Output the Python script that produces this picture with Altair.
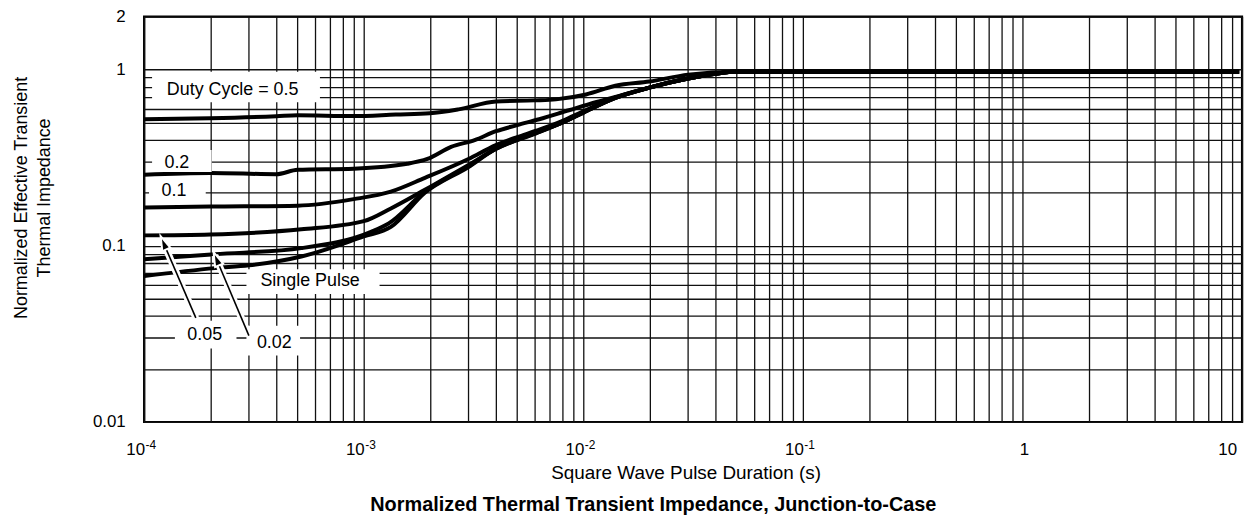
import altair as alt
import pandas as pd

FONT = "Liberation Sans"

# ---- curve data (pulse duration s, normalized Zth) ----
series_names = ["0.5", "0.2", "0.1", "0.05", "0.02", "Single Pulse"]

t_05 = [1e-4, 2e-4, 4e-4, 5e-4, 9e-4, 1.4e-3, 2e-3, 2.7e-3, 4e-3, 6e-3, 7.5e-3, 1.03e-2, 1.4e-2, 2e-2, 3e-2, 5e-2, 9.7]
z_05 = [0.523, 0.530, 0.544, 0.551, 0.545, 0.556, 0.565, 0.595, 0.66, 0.669, 0.678, 0.723, 0.81, 0.856, 0.937, 0.974, 0.974]

t_02 = [1e-4, 2e-4, 4e-4, 5e-4, 9e-4, 1.58e-3, 1.95e-3, 2.5e-3, 3.2e-3, 4e-3, 5e-3, 6.3e-3, 8.6e-3, 1.15e-2, 1.4e-2, 2e-2, 3e-2, 5e-2, 9.7]
z_02 = [0.253, 0.259, 0.255, 0.270, 0.274, 0.292, 0.311, 0.364, 0.398, 0.447, 0.484, 0.523, 0.588, 0.655, 0.70, 0.79, 0.89, 0.974, 0.974]

t_01 = [1e-4, 2e-4, 5e-4, 9e-4, 1.33e-3, 1.9e-3, 3e-3, 4e-3, 5e-3, 6.1e-3, 8e-3, 1e-2, 1.4e-2, 2e-2, 3e-2, 5e-2, 9.7]
z_01 = [0.165, 0.167, 0.169, 0.184, 0.203, 0.243, 0.311, 0.373, 0.414, 0.45, 0.51, 0.58, 0.695, 0.79, 0.89, 0.974, 0.974]

t_005 = [1e-4, 2e-4, 5.2e-4, 1e-3, 1.33e-3, 1.9e-3, 3e-3, 4e-3, 6.1e-3, 8e-3, 1e-2, 1.4e-2, 2e-2, 3e-2, 5e-2, 9.7]
z_005 = [0.1146, 0.116, 0.124, 0.138, 0.163, 0.208, 0.288, 0.354, 0.44, 0.5, 0.57, 0.69, 0.79, 0.89, 0.974, 0.974]

t_002 = [1e-4, 2.1e-4, 5.2e-4, 1.08e-3, 1.3e-3, 1.9e-3, 3e-3, 4e-3, 6.1e-3, 8e-3, 1e-2, 1.4e-2, 2e-2, 3e-2, 5e-2, 9.7]
z_002 = [0.0839, 0.0896, 0.097, 0.120, 0.134, 0.203, 0.284, 0.357, 0.437, 0.5, 0.57, 0.69, 0.79, 0.89, 0.974, 0.974]

t_sp = [1e-4, 2.1e-4, 3e-4, 5.2e-4, 1e-3, 1.33e-3, 1.9e-3, 3e-3, 4e-3, 6.1e-3, 8e-3, 1e-2, 1.4e-2, 2e-2, 3e-2, 5e-2, 9.7]
z_sp = [0.0673, 0.0747, 0.0775, 0.087, 0.113, 0.128, 0.2, 0.28, 0.355, 0.435, 0.5, 0.57, 0.69, 0.79, 0.89, 0.974, 0.974]

# ---- axis ticks ----
x_grid = [round(m * 10.0 ** k, 10) for k in range(-4, 1) for m in range(1, 10)] + [10.0]
y_grid = [round(m * 10.0 ** k, 10) for k in range(-2, 0) for m in range(1, 10)] + [1.0, 2.0]
# x tick labels: powers of ten written as base + superscript exponent
x_pow_values = [0.0001, 0.001, 0.01, 0.1]
x_pow_base = ["10", "10", "10", "10"]
x_pow_exp = ["-4", "-3", "-2", "-1"]
x_one_value = [1.0]
x_one_label = ["1"]
x_ten_value = [10.0]
x_ten_label = ["10"]
y_tick_values = [0.01, 0.1, 1.0, 2.0]
y_tick_labels = ["0.01", "0.1", "1", "2"]

# ---- annotations ----
label_text = ["Duty Cycle = 0.5", "0.2", "0.1", "Single Pulse", "0.05", "0.02"]
label_t = [2.53e-4, 1.41e-4, 1.367e-4, 5.7e-4, 1.888e-4, 3.916e-4]
label_z = [0.762, 0.2954, 0.2054, 0.0631, 0.0313, 0.0282]
box_t1 = [1.087e-4, 1.087e-4, 1.053e-4, 2.924e-4, 1.381e-4, 2.924e-4]
box_t2 = [6.32e-4, 2.03e-4, 1.908e-4, 1.181e-3, 2.634e-4, 5.13e-4]
box_z1 = [0.974, 0.3498, 0.2369, 0.0737, 0.03756, 0.0352]
box_z2 = [0.652, 0.2628, 0.1781, 0.0533, 0.02612, 0.02385]

arrow_tip_t = [1.206e-4, 2.1e-4]
arrow_tip_z = [0.1088, 0.0884]
arrow_tail_t = [1.72e-4, 3.0e-4]
arrow_tail_z = [0.039, 0.0309]
arrow_angle = [336.7, 337.2]

# ---- build tables ----
rows = []
for name, ts, zs in zip(series_names, [t_05, t_02, t_01, t_005, t_002, t_sp],
                        [z_05, z_02, z_01, z_005, z_002, z_sp]):
    for i, (t, z) in enumerate(zip(ts, zs)):
        rows.append({"series": name, "t": t, "z": z, "order": i})
curves = pd.DataFrame(rows)

labels = pd.DataFrame({"text": label_text, "t": label_t, "z": label_z,
                       "t1": box_t1, "t2": box_t2, "z1": box_z1, "z2": box_z2})
arrows = pd.DataFrame({"t": arrow_tip_t, "z": arrow_tip_z,
                       "t2": arrow_tail_t, "z2": arrow_tail_z, "angle": arrow_angle})
pow_df = pd.DataFrame({"t": x_pow_values, "base": x_pow_base, "exp": x_pow_exp})
one_df = pd.DataFrame({"t": x_one_value, "base": x_one_label})
ten_df = pd.DataFrame({"t": x_ten_value, "base": x_ten_label})


def label_expr(vals, labs):
    expr = "''"
    for v, l in reversed(list(zip(vals, labs))):
        expr = f"abs(datum.value - {v!r}) < {v * 1e-6!r} ? '{l}' : ({expr})"
    return expr


xscale = alt.Scale(type="log", domain=[1e-4, 10], nice=False)
yscale = alt.Scale(type="log", domain=[0.01, 2], nice=False)

xaxis = alt.Axis(
    values=x_grid, labels=False,
    grid=True, gridColor="#111111", gridWidth=1.3, gridOpacity=1,
    ticks=False, tickSize=0, domain=False,
    title="Square Wave Pulse Duration (s)", titleFont=FONT, titleFontSize=19,
    titleFontWeight="normal", titleColor="black", titleX=545, titleY=51,
    titleAlign="center", titleBaseline="middle",
)
yaxis = alt.Axis(
    values=y_grid, labelExpr=label_expr(y_tick_values, y_tick_labels),
    grid=True, gridColor="#111111", gridWidth=1.3, gridOpacity=1,
    ticks=False, tickSize=0, domain=False, labelOverlap=False, labelBound=False,
    labelFont=FONT, labelFontSize=17, labelColor="black", labelPadding=19,
    title=["Normalized Effective Transient", "Thermal Impedance"],
    titleFont=FONT, titleFontSize=18, titleFontWeight="normal", titleColor="black",
    titleX=-123, titleY=182, titleAlign="center", titleBaseline="middle",
    titleLineHeight=23, titleAngle=270,
)

base_x = alt.X("t:Q", scale=xscale, axis=xaxis)
base_y = alt.Y("z:Q", scale=yscale, axis=yaxis)

lines = alt.Chart(curves).mark_line(
    color="black", strokeWidth=4, interpolate="monotone", strokeJoin="round", clip=True
).encode(x=base_x, y=base_y, detail="series:N", order="order:Q")

boxes = alt.Chart(labels).mark_rect(color="white", opacity=1).encode(
    x=alt.X("t1:Q", scale=xscale), x2="t2:Q",
    y=alt.Y("z1:Q", scale=yscale), y2="z2:Q")

halo = alt.Chart(arrows).mark_rule(color="white", strokeWidth=7, strokeCap="butt").encode(
    x=alt.X("t:Q", scale=xscale), x2="t2:Q", y=alt.Y("z:Q", scale=yscale), y2="z2:Q")
shaft = alt.Chart(arrows).mark_rule(color="black", strokeWidth=1.6).encode(
    x=alt.X("t:Q", scale=xscale), x2="t2:Q", y=alt.Y("z:Q", scale=yscale), y2="z2:Q")

head_shape = "M0,0L0.3,1L-0.3,1Z"
head_halo = alt.Chart(arrows).mark_point(
    shape=head_shape, filled=True, fill="white", stroke="white", strokeWidth=4,
    size=400, opacity=1).encode(
    x=alt.X("t:Q", scale=xscale), y=alt.Y("z:Q", scale=yscale), angle=alt.Angle("angle:Q", scale=None))
head = alt.Chart(arrows).mark_point(
    shape=head_shape, filled=True, fill="black", strokeWidth=0, size=400, opacity=1).encode(
    x=alt.X("t:Q", scale=xscale), y=alt.Y("z:Q", scale=yscale), angle=alt.Angle("angle:Q", scale=None))

texts = alt.Chart(labels).mark_text(
    font=FONT, fontSize=18, color="black", align="center", baseline="middle").encode(
    x=alt.X("t:Q", scale=xscale), y=alt.Y("z:Q", scale=yscale), text="text:N")

# x tick labels (below the plot)
LABEL_Y = 436
pow_base = alt.Chart(pow_df).mark_text(
    font=FONT, fontSize=17, color="black", align="right", baseline="middle", dx=1).encode(
    x=alt.X("t:Q", scale=xscale), y=alt.value(LABEL_Y), text="base:N")
pow_exp = alt.Chart(pow_df).mark_text(
    font=FONT, fontSize=12, color="black", align="left", baseline="middle", dx=1.5).encode(
    x=alt.X("t:Q", scale=xscale), y=alt.value(LABEL_Y - 5), text="exp:N")
one_lab = alt.Chart(one_df).mark_text(
    font=FONT, fontSize=17, color="black", align="center", baseline="middle", dx=2).encode(
    x=alt.X("t:Q", scale=xscale), y=alt.value(LABEL_Y), text="base:N")
ten_lab = alt.Chart(ten_df).mark_text(
    font=FONT, fontSize=17, color="black", align="right", baseline="middle", dx=-5).encode(
    x=alt.X("t:Q", scale=xscale), y=alt.value(LABEL_Y), text="base:N")

chart = alt.layer(lines, boxes, halo, shaft, head_halo, head, texts,
                  pow_base, pow_exp, one_lab, ten_lab).properties(
    width=1105, height=408,
    autosize=alt.AutoSizeParams(type="none"),
    padding={"left": 137, "top": 7, "right": 5, "bottom": 96},
    background="white",
    title=alt.TitleParams(
        "Normalized Thermal Transient Impedance, Junction-to-Case",
        orient="bottom", anchor="middle", font=FONT, fontSize=20, fontWeight="bold",
        color="black", offset=13, dx=-40),
).configure_view(stroke="black", strokeWidth=2.2)

chart.save("out.html", embed_options={"renderer": "svg", "actions": False})
